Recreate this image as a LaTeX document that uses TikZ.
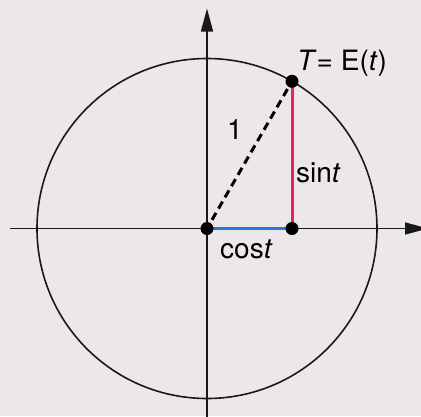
\documentclass[tikz,border=0pt]{standalone}
\usepackage{fontspec}
\setmainfont{TeX Gyre Heros}
\usetikzlibrary{arrows.meta,calc}
\definecolor{bgpaper}{RGB}{236,232,234}
\definecolor{cosblue}{RGB}{40,120,215}
\definecolor{sinred}{RGB}{235,35,85}
\tikzset{
  axisline/.style={line width=1.6pt, black!90, -{Triangle[length=23pt,width=12pt]}},
  unitcircle/.style={line width=1.6pt, black!90},
  dotmark/.style={circle, fill=black, inner sep=0pt, minimum size=13pt},
  lbl/.style={inner sep=0pt, font=\fontsize{28}{33}\selectfont},
}
\begin{document}
\begin{tikzpicture}[x=1pt,y=-1pt]
\fill[bgpaper] (0,0) rectangle (421,416);
\useasboundingbox (0,0) rectangle (421,416);
\coordinate (O) at (207,228.5);
\coordinate (F) at (292,228.5);
\coordinate (T) at (292,81.3);
\coordinate (xl) at (10,228.5);
\coordinate (xr) at (428,228.5);
\coordinate (yb) at (207,420);
\coordinate (yt) at (207,8.5);
\draw[unitcircle] (O) circle (170);
\draw[axisline] (xl) -- (xr);
\draw[axisline] (yb) -- (yt);
\draw[line width=3pt, cosblue] (O) -- (F);
\draw[line width=3pt, sinred] (F) -- (T);
\draw[line width=3pt, black, dash pattern=on 8pt off 5pt] ($(O)!10pt!(T)$) -- ($(T)!8pt!(O)$);
\node[dotmark] (dO) at (O) {};
\node[dotmark] (dF) at (F) {};
\node[dotmark] (dT) at (T) {};
\node[lbl, anchor=base west] (lT) at (297,70) {\textit{T}= E(\textit{t})};
\node[lbl] (l1) at (235,130) {1};
\node[lbl, anchor=base west] (ls) at (296,182) {sin\textit{t}};
\node[lbl, anchor=base west] (lc) at (220,258) {cos\textit{t}};
\end{tikzpicture}
\end{document}
